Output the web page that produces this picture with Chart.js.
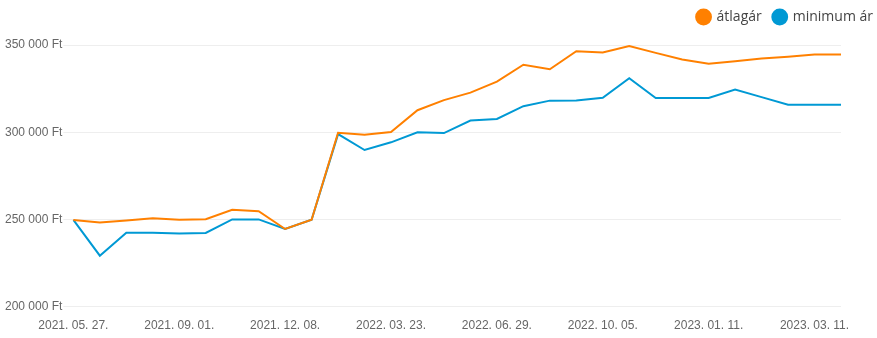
<!DOCTYPE html>
<html lang="hu">
<head>
<meta charset="utf-8">
<title>Árak alakulása</title>
<script src="https://cdn.jsdelivr.net/npm/chart.js@4.4.1/dist/chart.umd.min.js"></script>
<style>
    html, body { margin: 0; padding: 0; background: #fff; overflow: hidden; }
    #wrap { width: 877px; height: 338px; position: relative; }
</style>
</head>
<body>
<div id="wrap"><canvas id="priceChart"></canvas></div>
<script>
// Dates of the price snapshots
const dates = [
    "2021. 05. 27.", "2021. 06. 23.", "2021. 07. 14.", "2021. 08. 04.",
    "2021. 09. 01.", "2021. 09. 29.", "2021. 10. 20.", "2021. 11. 10.",
    "2021. 12. 08.", "2022. 01. 12.", "2022. 02. 02.", "2022. 02. 23.",
    "2022. 03. 23.", "2022. 04. 20.", "2022. 05. 11.", "2022. 06. 01.",
    "2022. 06. 29.", "2022. 07. 20.", "2022. 08. 10.", "2022. 09. 07.",
    "2022. 10. 05.", "2022. 10. 26.", "2022. 11. 16.", "2022. 12. 14.",
    "2023. 01. 11.", "2023. 01. 25.", "2023. 02. 08.", "2023. 02. 22.",
    "2023. 03. 11.", "2023. 03. 25."
];

// Average price (Ft)
const avgPrice = [
    249700, 248200, 249400, 250700, 249800, 250100, 255500, 254700,
    244500, 249800, 299700, 298600, 300100, 312600, 318400, 322700,
    329000, 338700, 336100, 346400, 345700, 349400, 345500, 341700,
    339200, 340700, 342300, 343300, 344600, 344600
];

// Minimum price (Ft)
const minPrice = [
    249700, 229200, 242400, 242400, 241900, 242200, 250000, 250000,
    244500, 249800, 298900, 289800, 294200, 299900, 299500, 306700,
    307600, 314900, 318100, 318200, 319700, 330900, 319600, 319600,
    319600, 324400, 320100, 315700, 315700, 315700
];

const yTicks = [200000, 250000, 300000, 350000];

const ORANGE = '#ff8000';
const BLUE = '#0099d4';

function formatFt(v) {
    return String(v).replace(/\B(?=(\d{3})+(?!\d))/g, ' ') + ' Ft';
}

// Extra room under the legend, and push the legend to the right edge
const legendTweak = {
    id: 'legendTweak',
    beforeInit(chart) {
        const legend = chart.legend;
        const origFit = legend.fit;
        legend.fit = function () {
            origFit.call(this);
            this.height += 9;
        };
    },
    afterLayout(chart) {
        const lg = chart.legend;
        lg.left += 44;
        lg.right += 44;
        lg.top -= 2;
        lg.bottom -= 2;
    }
};

const ctx = document.getElementById("priceChart").getContext("2d");
new Chart(ctx, {
    type: 'line',
    data: {
        labels: dates,
        datasets: [
            {
                label: 'átlagár',
                data: avgPrice,
                borderColor: ORANGE,
                backgroundColor: ORANGE,
                borderWidth: 2,
                pointRadius: 0,
                tension: 0
            },
            {
                label: 'minimum ár',
                data: minPrice,
                borderColor: BLUE,
                backgroundColor: BLUE,
                borderWidth: 2,
                pointRadius: 0,
                tension: 0
            }
        ]
    },
    plugins: [legendTweak],
    options: {
        responsive: true,
        maintainAspectRatio: false,
        animation: false,
        layout: { padding: { left: 4, right: 36, top: 0, bottom: 1 } },
        plugins: {
            tooltip: { enabled: false },
            legend: {
                position: 'top',
                align: 'end',
                labels: {
                    usePointStyle: true,
                    pointStyle: 'circle',
                    boxWidth: 12,
                    boxHeight: 10.5,
                    color: '#444',
                    padding: 12,
                    font: { family: "'Open Sans'", size: 14 }
                }
            }
        },
        scales: {
            x: {
                grid: { display: false },
                border: { display: false },
                ticks: {
                    autoSkip: false,
                    maxRotation: 0,
                    padding: 4,
                    color: '#666',
                    font: { family: "'Liberation Sans', Arial", size: 12 },
                    callback: function (val, index) {
                        return index % 4 === 0 ? this.getLabelForValue(val) : '';
                    }
                }
            },
            y: {
                min: 200000,
                max: 350000,
                afterBuildTicks: axis => {
                    axis.ticks = yTicks.map(v => ({ value: v }));
                },
                grid: { color: '#eeeeee', tickLength: 10 },
                border: { display: false },
                ticks: {
                    color: '#666',
                    padding: 1,
                    font: { family: "'Liberation Sans', Arial", size: 12 },
                    callback: v => formatFt(v)
                }
            }
        }
    }
});
</script>
</body>
</html>
